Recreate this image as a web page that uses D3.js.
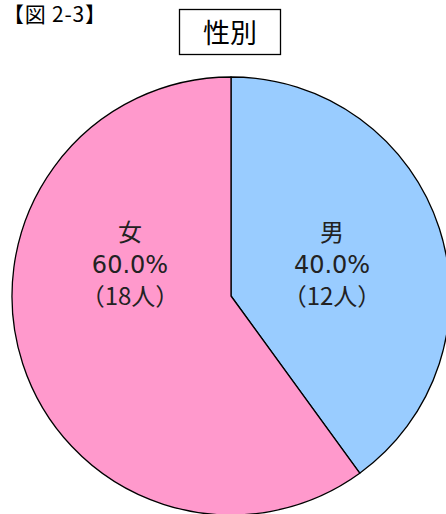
<!DOCTYPE html>
<html>
<head>
<meta charset="utf-8">
<script src="https://cdn.jsdelivr.net/npm/d3@7"></script>
<style>
  body { margin: 0; background: #fff; }
  svg { display: block; font-family: "Noto Sans CJK JP", sans-serif; }
</style>
</head>
<body>
<div class="canvas"></div>
<script>
// data
const categories = ['男', '女']
const counts = [12, 18]
const colors = ['#99ccff', '#ff99cc']
const figLabel = '【図 2-3】'
const chartTitle = '性別'

const dims = { width: 446, height: 514, radius: 219 }
const cent = { x: 231, y: 296 }

const svg = d3.select('.canvas')
    .append('svg')
    .attr('width', dims.width)
    .attr('height', dims.height)

const data = categories.map((c, i) => ({ name: c, count: counts[i] }))
const total = d3.sum(counts)

const color = d3.scaleOrdinal(categories, colors)

const pie = d3.pie()
    .sort(null)
    .value(d => d.count)

const arcPath = d3.arc()
    .outerRadius(dims.radius)
    .innerRadius(0)

const graph = svg.append('g')
    .attr('transform', `translate(${cent.x}, ${cent.y})`)

graph.selectAll('path')
    .data(pie(data))
    .enter()
    .append('path')
    .attr('d', arcPath)
    .attr('fill', d => color(d.data.name))
    .attr('stroke', '#000')
    .attr('stroke-width', 1.3)
    .attr('stroke-linejoin', 'round')

// labels sit in the upper half of each slice, left/right of the centre
const labelR = dims.radius * 0.485
const labelPos = d => {
    const a = (d.startAngle + d.endAngle) / 2
    return [labelR * Math.sin(a), -labelR * Math.abs(Math.cos(a))]
}

const labels = graph.selectAll('g.label')
    .data(pie(data))
    .enter()
    .append('g')
    .attr('class', 'label')
    .attr('transform', d => `translate(${labelPos(d)})`)

labels.each(function(d) {
    const g = d3.select(this)
    const lines = [
        d.data.name,
        (d.data.count / total * 100).toFixed(1) + '%',
        '（' + d.data.count + '人）'
    ]
    g.selectAll('text')
        .data(lines)
        .enter()
        .append('text')
        .attr('text-anchor', 'middle')
        .attr('y', (t, i) => (i - 1) * 32 + 10)
        .attr('font-size', 24)
        .attr('font-family', (t, i) => i === 1 ? '"DejaVu Sans", sans-serif' : null)
        .attr('fill', '#222')
        .text(t => t)
})

// title box
svg.append('rect')
    .attr('x', 179.5)
    .attr('y', 9.5)
    .attr('width', 101)
    .attr('height', 45)
    .attr('fill', '#fff')
    .attr('stroke', '#000')
    .attr('stroke-width', 1.3)

svg.append('text')
    .attr('x', 230)
    .attr('y', 43)
    .attr('text-anchor', 'middle')
    .attr('font-size', 27)
    .attr('fill', '#000')
    .text(chartTitle)

svg.append('text')
    .attr('x', 3)
    .attr('y', 22)
    .attr('font-size', 21)
    .attr('textLength', 103)
    .attr('lengthAdjust', 'spacing')
    .attr('fill', '#000')
    .text(figLabel)
</script>
</body>
</html>
